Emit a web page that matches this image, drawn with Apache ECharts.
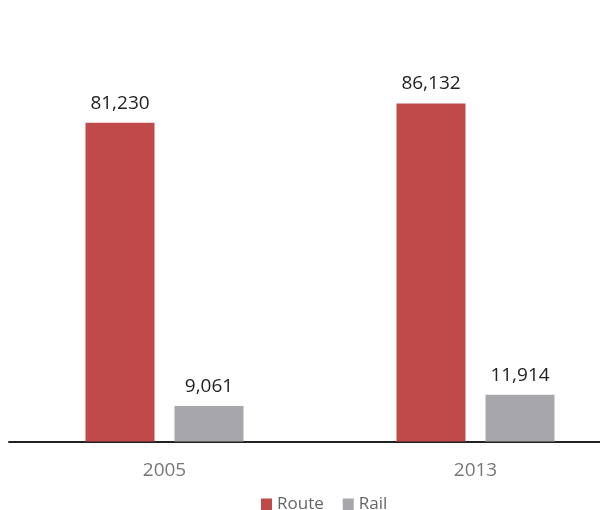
<!DOCTYPE html>
<html><head><meta charset="utf-8">
<script src="https://cdn.jsdelivr.net/npm/echarts@6/dist/echarts.min.js"></script>
<style>html,body{margin:0;padding:0;background:#fff;overflow:hidden;width:600px;height:510px}#c{width:640px;height:510px}</style>
</head><body><div id="c"></div>
<script>
var categories = ['2005', '2013'];
var routeValues = [81230, 86132];
var railValues = [9061, 11914];
var seriesNames = ['Route', 'Rail'];

var chart = echarts.init(document.getElementById('c'));
var labelStyle = {
  show: true, position: 'top', distance: 10,
  fontFamily: 'Open Sans', fontSize: 19, color: '#222',
  formatter: function (p) { return p.value.toLocaleString('en-US'); }
};
chart.setOption({
  animation: false,
  grid: { left: 9, top: 49, width: 622, height: 392.5, containLabel: false },
  legend: {
    data: seriesNames, left: 256, top: 491, itemWidth: 11, itemHeight: 12, itemGap: 19,
    icon: 'rect',
    textStyle: { fontFamily: 'Open Sans', fontSize: 17, color: '#666' }
  },
  xAxis: {
    type: 'category', data: categories,
    axisLine: { lineStyle: { color: '#222', width: 2 } },
    axisTick: { show: false },
    axisLabel: { fontFamily: 'Open Sans', fontSize: 19, color: '#777', margin: 20 }
  },
  yAxis: { type: 'value', min: 0, max: 100000, show: false, splitLine: { show: false } },
  series: [
    { name: seriesNames[0], type: 'bar', data: routeValues, barWidth: 69, barGap: '29%',
      itemStyle: { color: '#C0494A' }, label: labelStyle },
    { name: seriesNames[1], type: 'bar', data: railValues, barWidth: 69,
      itemStyle: { color: '#A7A7AB' }, label: labelStyle }
  ]
});
</script></body></html>
